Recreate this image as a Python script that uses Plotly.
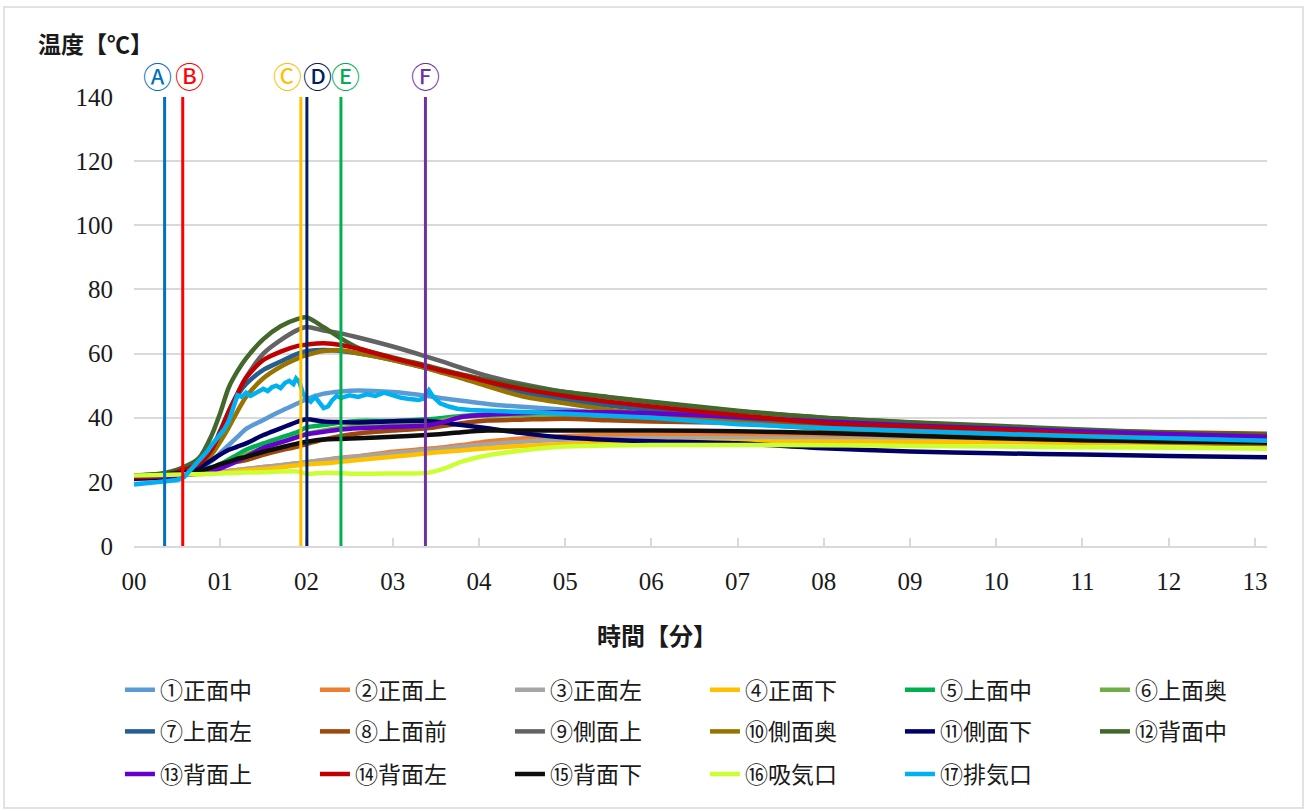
import plotly.graph_objects as go

# Sampling times [min] shared by series ①–⑯
T = [0, 0.3, 0.55, 0.75, 0.9, 1.0, 1.1, 1.2, 1.3, 1.5, 1.7, 1.9, 2.0, 2.2, 2.4, 2.6,
     3.0, 3.4, 3.6, 3.8, 4.1, 4.5, 5.0, 5.5, 6.0, 7.0, 8.0, 9.0, 10.0, 11.0, 12.0, 13.14]

S1 = [22, 22.1, 22.5, 24, 26.5, 29, 31.5, 34, 36.5, 39.3, 42, 44.5, 45.8, 47.5, 48.2, 48.5,
      48, 46.8, 46, 45.3, 44.3, 43.4, 42.5, 41.3, 40.2, 38.5, 37, 36, 35, 34.2, 33.6, 33]
S2 = [22, 22.1, 22.3, 22.6, 22.9, 23.1, 23.4, 23.7, 24, 24.6, 25.2, 25.8, 26.1, 26.8, 27.5, 28,
      29.4, 30.3, 30.8, 31.5, 32.6, 33.5, 34.3, 34.6, 34.7, 34.5, 34.1, 33.7, 33.3, 33, 32.7, 32.3]
S3 = [22, 22.1, 22.3, 22.6, 22.9, 23.1, 23.4, 23.7, 24, 24.6, 25.2, 25.8, 26.1, 26.8, 27.4, 27.9,
      28.9, 29.9, 30.4, 31, 31.7, 32.5, 33.1, 33.5, 33.6, 33.6, 33.4, 33.2, 33, 32.7, 32.4, 32]
S4 = [22, 22.1, 22.2, 22.4, 22.6, 22.8, 23, 23.3, 23.6, 24, 24.5, 25.2, 25.5, 25.8, 26.3, 26.8,
      27.8, 28.9, 29.4, 29.8, 30.5, 31.2, 31.8, 32.2, 32.4, 32.6, 32.6, 32.5, 32.4, 32.2, 32, 31.8]
S5 = [22, 22.1, 22.5, 23.3, 24.5, 25.5, 27, 28.5, 30, 32, 33.8, 35.6, 37, 37.7, 38.5, 39,
      39, 39.5, 40, 40.5, 41, 41.2, 41, 40.6, 40.1, 39.3, 38.3, 37.3, 36.5, 35.7, 35, 34.2]
S6 = [22, 22.1, 22.4, 23, 24, 25, 26, 27.3, 28.5, 30.5, 32.3, 34, 35, 36, 36.8, 37.3,
      37.8, 38.3, 39.3, 40.2, 40.6, 40.8, 40.7, 40.3, 39.8, 39, 38, 37, 36.2, 35.4, 34.7, 34]
S7 = [22, 22.3, 23.3, 25.5, 30, 36, 42, 47, 50.5, 54.9, 57.5, 60, 60.7, 61.1, 60.8, 60.1,
      58, 55.4, 54, 52.5, 50.3, 48, 45.5, 43.8, 42.3, 39.7, 37.8, 36.4, 35.2, 34.2, 33.4, 32.6]
S8 = [22, 22.1, 22.4, 23, 23.7, 24.5, 25.5, 26.3, 26.8, 28.4, 29.8, 31, 31.8, 33.2, 34.3, 35.1,
      36, 36.7, 37.5, 38.3, 39.1, 39.4, 39.7, 39.2, 38.8, 38.4, 38, 37.4, 36.7, 36, 35.5, 35]
S9 = [22, 22.3, 23.5, 26, 30, 35, 42, 47.5, 52.5, 60, 64.2, 67.4, 68.3, 67.2, 66.3, 65,
      62.2, 59, 57.3, 55.5, 53, 50.5, 48, 46.3, 44.8, 42, 40, 38.5, 37.2, 36, 35, 34]
S10 = [22, 22.2, 23, 24.8, 28.5, 32.5, 37, 42, 46.5, 52.3, 55.9, 58.5, 59.5, 60.8, 61, 60.1,
       58, 55.4, 53.8, 52.3, 49.8, 46.7, 44.5, 42.5, 41, 38.5, 36.5, 35, 33.8, 33, 32.3, 31.7]
S11 = [21, 21.3, 22, 24.3, 26.8, 28.5, 30, 31, 32, 34.6, 36.7, 38.8, 39.5, 38.8, 38.6, 38.5,
       38.9, 39, 38.5, 37.7, 36.7, 35.2, 33.8, 33.1, 32.7, 32, 30.5, 29.5, 28.9, 28.5, 28.1, 27.7]
S12 = [22, 22.5, 24.3, 27.3, 34.5, 41.5, 49.5, 54.5, 58.5, 64.5, 68.5, 70.8, 71.3, 68.2, 64.7, 61.8,
       58.8, 56.2, 54.8, 53.5, 51.8, 50, 48, 46.5, 45, 42.2, 40, 38.6, 37.5, 36.3, 35.3, 34.5]
S13 = [21.5, 21.7, 22, 22.6, 23.3, 24.2, 25.3, 26.5, 27.8, 30.6, 32.3, 34, 34.8, 35.6, 36.3, 36.7,
       37.2, 37.6, 38.7, 40.2, 40.9, 41.4, 41.8, 41.7, 41.4, 40.2, 38.8, 37.6, 36.6, 35.7, 34.9, 34.1]
S14 = [21.5, 21.8, 23.5, 25.5, 30, 35.5, 42, 47.5, 52.5, 58, 60.6, 62.4, 62.8, 63.2, 62.7, 61.5,
       58.6, 55.9, 54.5, 53.3, 51.2, 49, 46.8, 45, 43.5, 40.8, 38.3, 37.2, 36.2, 34.8, 33.5, 32.3]
S15 = [22, 22.2, 22.8, 23.3, 24.5, 25.5, 26.3, 27.2, 27.8, 29.4, 30.7, 32, 32.5, 33.2, 33.4, 33.6,
       34.1, 34.6, 35, 35.5, 36, 36, 36, 36, 36, 35.8, 35.2, 34.4, 33.6, 33, 32.6, 32.3]
S16 = [22, 22.1, 22.3, 22.4, 22.5, 22.6, 22.7, 22.8, 22.9, 23, 23.2, 23.2, 22.5, 22.8, 22.7, 22.5,
       22.6, 22.8, 24.2, 26.3, 28.3, 29.8, 31, 31.3, 31.5, 31.5, 31.4, 31.2, 31, 30.8, 30.6, 30.3]

# Exhaust (⑰) is logged on its own, denser time base
T17 = [0, 0.2, 0.4, 0.5, 0.58, 0.65, 0.7, 0.75, 0.8, 0.85, 0.9, 0.95, 1.0, 1.05, 1.1, 1.13,
       1.17, 1.2, 1.25, 1.3, 1.35, 1.4, 1.45, 1.5, 1.55, 1.6, 1.65, 1.7, 1.75, 1.8, 1.85, 1.88,
       1.92, 1.96, 2.0, 2.05, 2.1, 2.15, 2.2, 2.25, 2.3, 2.35, 2.4, 2.5, 2.6, 2.7, 2.8, 2.9,
       3.0, 3.1, 3.2, 3.3, 3.36, 3.42, 3.47, 3.55, 3.65, 3.75, 3.9, 4.2, 4.6, 5.0, 5.5, 6.0,
       6.5, 7.0, 8.0, 9.0, 10.0, 11.0, 12.0, 13.14]
S17 = [19.2, 19.8, 20.3, 20.6, 21.5, 23.5, 25, 26.5, 28, 29.5, 31.5, 33, 35, 36.5, 39, 41.5,
       45, 47, 46.5, 47.8, 46.8, 47.5, 48.5, 49, 48.3, 49.5, 50, 49.2, 50.8, 51.5, 50.5, 52.2,
       51, 47.5, 46, 45, 46.5, 45, 43, 43.5, 45.5, 46.8, 46.2, 47, 46.5, 47.3, 46.8, 47.8,
       47, 46.2, 45.8, 45.5, 46, 48.5, 46.5, 44.5, 43.5, 42.8, 42.4, 42.2, 41.7, 41.2, 40.7, 40,
       39, 38, 36.8, 35.8, 35, 34.2, 33.5, 32.8]

NAMES = ["①正面中", "②正面上", "③正面左", "④正面下", "⑤上面中", "⑥上面奥",
         "⑦上面左", "⑧上面前", "⑨側面上", "⑩側面奥", "⑪側面下", "⑫背面中",
         "⑬背面上", "⑭背面左", "⑮背面下", "⑯吸気口", "⑰排気口"]
COLORS = ["#5B9BD5", "#ED7D31", "#A5A5A5", "#FFC000", "#00B050", "#70AD47",
          "#255E91", "#9E480E", "#636363", "#997300", "#000066", "#43682B",
          "#6600CC", "#C00000", "#0D0D0D", "#CCFF33", "#00B0F0"]

SERIES = [S1, S2, S3, S4, S5, S6, S7, S8, S9, S10, S11, S12, S13, S14, S15, S16]

# Event markers Ⓐ–Ⓕ [min]
MARK_LABELS = ["Ⓐ", "Ⓑ", "Ⓒ", "Ⓓ", "Ⓔ", "Ⓕ"]
MARK_TIMES = [0.355, 0.565, 1.935, 2.005, 2.40, 3.38]
MARK_COLORS = ["#0070C0", "#FF0000", "#FFC000", "#002060", "#00B050", "#7030A0"]
MARK_SHIFT = [-7, 7, -13, 11, 5, 0]

X_TICKS = list(range(14))
X_LABELS = [f"{m:02d}" for m in X_TICKS]
Y_TICKS = [0, 20, 40, 60, 80, 100, 120, 140]

JP = "Noto Sans CJK JP"
SERIF = "Liberation Serif"
INK = "#1a1a1a"

fig = go.Figure()

legend_of = ["legend"] * 6 + ["legend2"] * 6 + ["legend3"] * 5
for i, name in enumerate(NAMES):
    if i < 16:
        xs, ys, shape = T, SERIES[i], "spline"
    else:
        xs, ys, shape = T17, S17, "linear"
    fig.add_trace(go.Scatter(
        x=xs, y=ys, mode="lines", name=name,
        line=dict(color=COLORS[i], width=4.5, shape=shape, smoothing=0.8),
        legend=legend_of[i],
    ))

shapes = []
annotations = []
for lab, t, c, dx in zip(MARK_LABELS, MARK_TIMES, MARK_COLORS, MARK_SHIFT):
    shapes.append(dict(type="line", xref="x", yref="y", x0=t, x1=t, y0=0, y1=140,
                       line=dict(color=c, width=3), layer="above"))
    annotations.append(dict(text=lab, x=t, xref="x", y=1.049, yref="paper",
                            yanchor="middle", xshift=dx, showarrow=False,
                            font=dict(family=JP, size=29, color=c)))

# outer chart frame
shapes.append(dict(type="rect", xref="paper", yref="paper",
                   x0=-0.1147, x1=1.0318, y0=-0.5835, y1=1.2004,
                   line=dict(color="#D9D9D9", width=1.5), layer="below"))

annotations.append(dict(text="温度【℃】", x=-0.0865, xref="paper", xanchor="left",
                        y=1.121, yref="paper", yanchor="middle", showarrow=False,
                        font=dict(family=JP, size=23, color=INK, weight=700)))
annotations.append(dict(text="時間【分】", x=0.462, xref="paper", xanchor="center",
                        y=-0.198, yref="paper", yanchor="middle", showarrow=False,
                        font=dict(family=JP, size=24, color=INK, weight=700)))

leg_common = dict(orientation="h", x=-0.0124, xanchor="left", yanchor="middle",
                  font=dict(family=JP, size=23, color=INK),
                  bgcolor="rgba(0,0,0,0)", entrywidth=150, entrywidthmode="pixels",
                  traceorder="normal")

fig.update_layout(
    width=1307, height=811,
    margin=dict(l=134, r=40, t=97, b=265),
    paper_bgcolor="white", plot_bgcolor="white",
    shapes=shapes, annotations=annotations,
    legend=dict(y=-0.320, **leg_common),
    legend2=dict(y=-0.413, **leg_common),
    legend3=dict(y=-0.508, **leg_common),
    xaxis=dict(range=[0, 13.14], tickmode="array", tickvals=X_TICKS, ticktext=X_LABELS,
               showgrid=False, zeroline=False, showline=True, linecolor="#D9D9D9",
               linewidth=1.5, ticks="inside", ticklen=8, tickcolor="#D9D9D9", tickwidth=1.5,
               ticklabelstandoff=12,
               tickfont=dict(family=SERIF, size=25, color=INK)),
    yaxis=dict(range=[0, 140], tickmode="array", tickvals=Y_TICKS,
               showgrid=True, gridcolor="#D9D9D9", gridwidth=1.5, zeroline=False,
               showline=False, ticks="", ticklabelstandoff=20,
               tickfont=dict(family=SERIF, size=25, color=INK)),
)

fig.write_html("out.html")
